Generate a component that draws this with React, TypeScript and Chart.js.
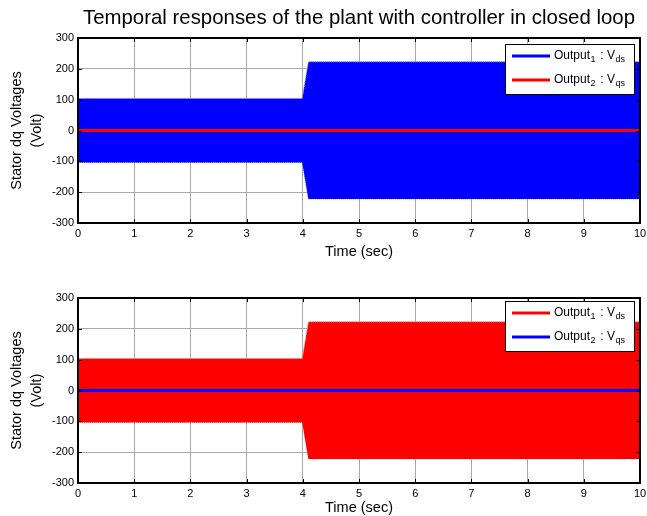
import React, { useEffect, useRef } from "react";
import { Chart, registerables } from "chart.js";

Chart.register(...registerables);

// ---- data -------------------------------------------------------------
// Envelope of the high-frequency d-axis stator voltage (Volt) vs time (sec)
const envTime = [0, 3.99, 4.1, 10];
const vdsUpper = [104, 104, 223, 223];
const vdsLower = [-104, -104, -222, -222];
// q-axis stator voltage stays at zero
const vqsTime = [0, 10];
const vqsValue = [0, 0];

const xTicks = [0, 1, 2, 3, 4, 5, 6, 7, 8, 9, 10];
const yTicks = [-300, -200, -100, 0, 100, 200, 300];

const titleText = "Temporal responses of the plant with controller in closed loop";
const yTitle = ["Stator dq Voltages", "(Volt)"];
const xTitle = "Time (sec)";
const legendDs = { main: "Output", idx: "1", sep: " : V", sub: "ds" };
const legendQs = { main: "Output", idx: "2", sep: " : V", sub: "qs" };

const FONT = "'Liberation Sans', Arial, Helvetica, sans-serif";
const BLUE = "#0000ff";
const RED = "#ff0000";

type LegendRow = { main: string; idx: string; sep: string; sub: string };

function drawRich(ctx: CanvasRenderingContext2D, x: number, y: number, row: LegendRow) {
  const big = `12px ${FONT}`;
  const small = `9px ${FONT}`;
  ctx.fillStyle = "#000";
  ctx.textAlign = "left";
  ctx.textBaseline = "middle";
  let cx = x;
  ctx.font = big;
  ctx.fillText(row.main, cx, y);
  cx += ctx.measureText(row.main).width + 0.5;
  ctx.font = small;
  ctx.fillText(row.idx, cx, y + 4);
  cx += ctx.measureText(row.idx).width;
  ctx.font = big;
  ctx.fillText(row.sep, cx + 1.5, y);
  cx += ctx.measureText(row.sep).width + 2;
  ctx.font = small;
  ctx.fillText(row.sub, cx, y + 4);
}

// Title, box frame with inward ticks and a boxed legend in the upper right corner
const panelPlugin = {
  id: "panelFrame",
  afterDraw(chart: any, _args: any, opts: any) {
    const { ctx, chartArea: a, scales } = chart;
    ctx.save();
    if (opts.title) {
      ctx.fillStyle = "#000";
      ctx.font = `20.4px ${FONT}`;
      ctx.textAlign = "center";
      ctx.textBaseline = "middle";
      ctx.fillText(opts.title, (a.left + a.right) / 2, 18);
    }
    ctx.strokeStyle = "#000";
    ctx.lineWidth = 1;
    ctx.beginPath();
    xTicks.forEach((v) => {
      const px = Math.round(scales.x.getPixelForValue(v)) + 0.5;
      ctx.moveTo(px, a.top);
      ctx.lineTo(px, a.top + 4);
      ctx.moveTo(px, a.bottom);
      ctx.lineTo(px, a.bottom - 4);
    });
    yTicks.forEach((v) => {
      const py = Math.round(scales.y.getPixelForValue(v)) + 0.5;
      ctx.moveTo(a.left, py);
      ctx.lineTo(a.left + 4, py);
      ctx.moveTo(a.right, py);
      ctx.lineTo(a.right - 4, py);
    });
    ctx.stroke();
    ctx.lineWidth = 2;
    ctx.strokeRect(a.left, a.top, a.right - a.left, a.bottom - a.top);

    // legend
    const bw = 129;
    const bh = 50;
    const bx = a.right - 6 - bw;
    const by = a.top + opts.legendTop;
    ctx.fillStyle = "#fff";
    ctx.fillRect(bx, by, bw, bh);
    ctx.lineWidth = 1;
    ctx.strokeStyle = "#000";
    ctx.strokeRect(bx + 0.5, by + 0.5, bw, bh);
    const rows: [LegendRow, string, number][] = [
      [legendDs, opts.dsColor, 12],
      [legendQs, opts.qsColor, 36],
    ];
    rows.forEach(([row, color, dy]) => {
      const ly = by + dy;
      ctx.strokeStyle = color;
      ctx.lineWidth = 3;
      ctx.beginPath();
      ctx.moveTo(bx + 7, ly);
      ctx.lineTo(bx + 45, ly);
      ctx.stroke();
      drawRich(ctx, bx + 49, ly, row);
    });
    ctx.restore();
  },
};

function buildConfig(withTitle: boolean, dsColor: string, qsColor: string, legendTop: number, xHeight: number, dsEdge: string) {
  const upper = envTime.map((t, i) => ({ x: t, y: vdsUpper[i] }));
  const lower = envTime.map((t, i) => ({ x: t, y: vdsLower[i] }));
  const qs = vqsTime.map((t, i) => ({ x: t, y: vqsValue[i] }));
  return {
    type: "line" as const,
    data: {
      datasets: [
        {
          label: "Output2 : Vqs",
          data: qs,
          borderColor: qsColor,
          borderWidth: 3,
          pointRadius: 0,
          fill: false,
        },
        {
          label: "Output1 : Vds",
          data: upper,
          borderColor: dsEdge,
          borderWidth: 1,
          borderDash: [1, 1],
          backgroundColor: dsColor,
          pointRadius: 0,
          fill: "+1",
        },
        {
          label: "Output1 : Vds (lower)",
          data: lower,
          borderColor: dsEdge,
          borderWidth: 1,
          borderDash: [1, 1],
          pointRadius: 0,
          fill: false,
        },
      ],
    },
    options: {
      responsive: false,
      animation: false as const,
      events: [],
      layout: { padding: { left: 0, right: 7, top: 38, bottom: 0 } },
      plugins: {
        legend: { display: false },
        tooltip: { enabled: false },
        title: { display: false },
        panelFrame: { dsColor, qsColor, legendTop, title: withTitle ? titleText : "" },
      },
      scales: {
        x: {
          type: "linear" as const,
          min: 0,
          max: 10,
          afterBuildTicks: (s: any) => {
            s.ticks = xTicks.map((v) => ({ value: v }));
          },
          afterFit: (s: any) => {
            s.height = xHeight;
            s.paddingLeft = 0;
            s.paddingRight = 0;
          },
          ticks: { color: "#000", font: { family: FONT, size: 11 }, padding: 4, maxRotation: 0, autoSkip: false },
          grid: { color: "#a8a8a8", lineWidth: 1, drawTicks: false },
          border: { display: false },
          title: {
            display: true,
            text: xTitle,
            color: "#000",
            font: { family: FONT, size: 14.5, lineHeight: 1.05 },
            padding: { top: 0, bottom: 0 },
          },
        },
        y: {
          type: "linear" as const,
          min: -300,
          max: 300,
          afterBuildTicks: (s: any) => {
            s.ticks = yTicks.map((v) => ({ value: v }));
          },
          afterFit: (s: any) => {
            s.width = 78;
            s.paddingTop = 0;
            s.paddingBottom = 0;
          },
          ticks: { color: "#000", font: { family: FONT, size: 11 }, padding: 4, autoSkip: false },
          grid: { color: "#a8a8a8", lineWidth: 1, drawTicks: false },
          border: { display: false },
          title: {
            display: true,
            text: yTitle,
            color: "#000",
            font: { family: FONT, size: 14.5, lineHeight: 1.38 },
            padding: { top: 7, bottom: 0 },
          },
        },
      },
    },
    plugins: [panelPlugin],
  };
}

type PanelProps = {
  top: number;
  height: number;
  withTitle: boolean;
  dsColor: string;
  qsColor: string;
  dsEdge: string;
  legendTop: number;
  xHeight: number;
};

function Panel(p: PanelProps) {
  const ref = useRef<HTMLCanvasElement>(null);
  useEffect(() => {
    if (!ref.current) return;
    const chart = new Chart(
      ref.current,
      buildConfig(p.withTitle, p.dsColor, p.qsColor, p.legendTop, p.xHeight, p.dsEdge) as any
    );
    return () => chart.destroy();
  }, []);
  return (
    <div style={{ position: "absolute", left: 0, top: p.top, width: 647, height: p.height }}>
      <canvas ref={ref} width={647} height={p.height} style={{ display: "block" }} />
    </div>
  );
}

export default function App() {
  return (
    <div style={{ position: "absolute", left: 0, top: 0, width: 647, height: 516, background: "#fff" }}>
      <Panel top={0} height={260} withTitle dsColor={BLUE} qsColor={RED} dsEdge="#8c8cff" legendTop={6} xHeight={37} />
      <Panel top={260} height={256} withTitle={false} dsColor={RED} qsColor={BLUE} dsEdge="#ff9a9a" legendTop={3} xHeight={33} />
    </div>
  );
}
